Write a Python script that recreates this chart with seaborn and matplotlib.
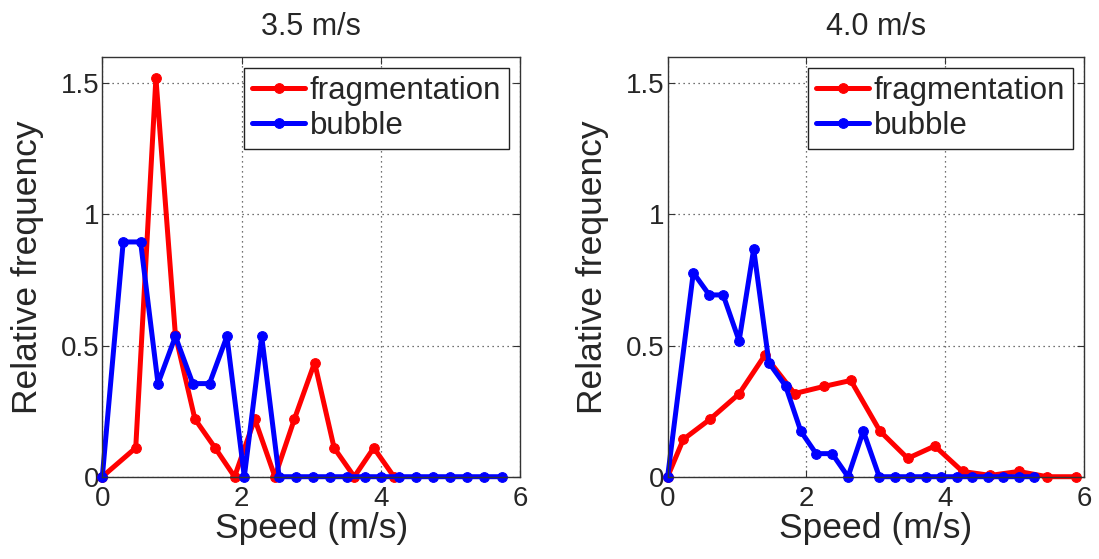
import numpy as np
import pandas as pd
import seaborn as sns
import matplotlib.pyplot as plt

# left panel: 3.5 m/s
frag35_x = [0, 0.48, 0.77, 1.05, 1.33, 1.62, 1.90, 2.19, 2.48, 2.76, 3.05, 3.33, 3.62, 3.90, 4.19]
frag35_y = [0, 0.11, 1.52, 0.54, 0.22, 0.11, 0.0, 0.22, 0.0, 0.22, 0.435, 0.11, 0.0, 0.11, 0.0]
bub35_x = [0, 0.30, 0.55, 0.80, 1.05, 1.30, 1.54, 1.79, 2.04, 2.29, 2.54, 2.78, 3.03, 3.27,
           3.52, 3.77, 4.01, 4.26, 4.50, 4.75, 5.00, 5.24, 5.49, 5.74]
bub35_y = [0, 0.895, 0.895, 0.355, 0.535, 0.355, 0.355, 0.535, 0, 0.535, 0,
           0, 0, 0, 0, 0, 0, 0, 0, 0, 0, 0, 0, 0]

# right panel: 4.0 m/s
frag40_x = [0, 0.225, 0.61, 1.03, 1.40, 1.83, 2.25, 2.64, 3.06, 3.46, 3.85, 4.25, 4.65, 5.06, 5.47, 5.88]
frag40_y = [0, 0.142, 0.219, 0.316, 0.463, 0.317, 0.344, 0.367, 0.174, 0.07, 0.117, 0.02, 0.005, 0.02, 0.0, 0.0]
bub40_x = [0, 0.37, 0.60, 0.80, 1.03, 1.24, 1.46, 1.70, 1.92, 2.14, 2.37, 2.60, 2.82, 3.05,
           3.27, 3.49, 3.72, 3.94, 4.17, 4.39, 4.62, 4.84, 5.06, 5.28]
bub40_y = [0, 0.778, 0.693, 0.693, 0.518, 0.868, 0.434, 0.346, 0.173, 0.088, 0.088, 0, 0.174, 0,
           0, 0, 0, 0, 0, 0, 0, 0, 0, 0]

titles = ["3.5 m/s", "4.0 m/s"]
xticks = [0, 2, 4, 6]
yticks = [0, 0.5, 1, 1.5]
yticklabels = ["0", "0.5", "1", "1.5"]

sns.set_theme(style="ticks", rc={"xtick.direction": "in", "ytick.direction": "in",
                                 "xtick.top": True, "ytick.right": True})
plt.rcParams["font.family"] = ["Liberation Sans", "DejaVu Sans"]

fig = plt.figure(figsize=(10.99, 5.59), dpi=100)
ax1 = fig.add_axes([0.0931, 0.1472, 0.380, 0.7508])
ax2 = fig.add_axes([0.6075, 0.1472, 0.3788, 0.7508])

panels = [(ax1, frag35_x, frag35_y, bub35_x, bub35_y),
          (ax2, frag40_x, frag40_y, bub40_x, bub40_y)]

for (ax, fx, fy, bx, by), title in zip(panels, titles):
    sns.lineplot(x=fx, y=fy, ax=ax, color="red", label="fragmentation", marker="o",
                 markersize=7, linewidth=3.6, markeredgecolor="red", sort=False,
                 clip_on=False)
    sns.lineplot(x=bx, y=by, ax=ax, color="blue", label="bubble", marker="o",
                 markersize=7, linewidth=3.6, markeredgecolor="blue", sort=False,
                 clip_on=False)
    ax.set_xlim(0, 6)
    ax.set_ylim(0, 1.6)
    ax.set_xticks(xticks)
    ax.set_yticks(yticks)
    ax.set_yticklabels(yticklabels)
    ax.tick_params(labelsize=20, length=5, width=0.8, color="#333333")
    ax.tick_params(axis="x", pad=7)
    ax.tick_params(axis="y", pad=2)
    ax.grid(True, linestyle=(0, (1, 3)), color="#444444", linewidth=0.9)
    for s in ax.spines.values():
        s.set_color("#333333")
        s.set_linewidth(1.0)
    ax.set_xlabel("Speed (m/s)", fontsize=25.5, labelpad=0)
    ax.set_ylabel("Relative frequency", fontsize=25.5)
    ax.yaxis.set_label_coords(-0.14, 0.5)
    ax.set_title(title, fontsize=22, pad=16)
    leg = ax.legend(loc="upper right", fontsize=22.5, frameon=True, fancybox=False,
                    edgecolor="#222222", framealpha=1, handlelength=1.7,
                    handletextpad=0.15, borderpad=0.25, labelspacing=0.18,
                    borderaxespad=0.35)
    leg.get_frame().set_linewidth(1.0)

plt.savefig("out.png", dpi=100)
